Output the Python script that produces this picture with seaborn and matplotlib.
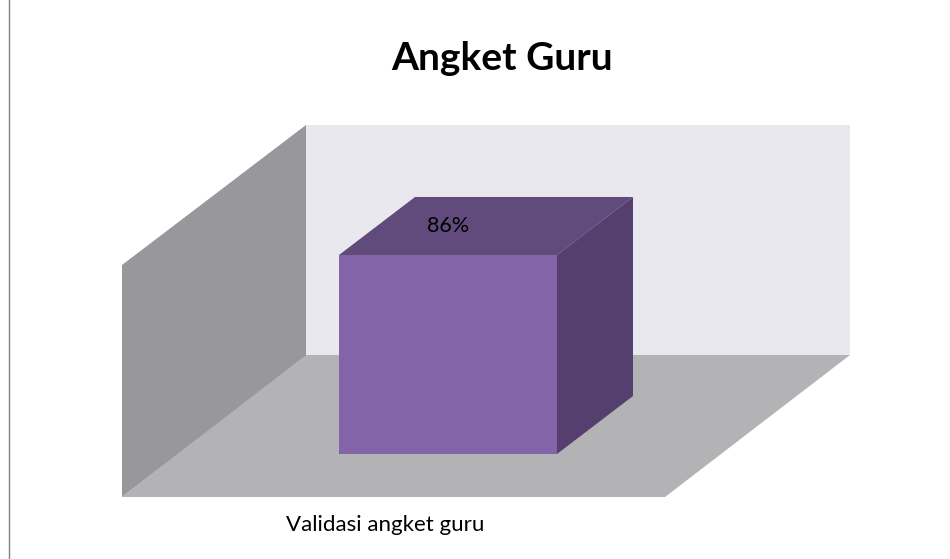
import matplotlib
matplotlib.use("Agg")
import matplotlib.pyplot as plt
import seaborn as sns
from matplotlib.patches import Polygon

# --- datos ---
categorias = ["Validasi angket guru"]
valores = [86]
etiquetas = ["86%"]
titulo = "Angket Guru"

W, H = 950, 559
DX, DY = 76, -58  # profundidad de la barra en pixeles

sns.set_theme(style="white")
plt.rcParams["font.family"] = ["Lato", "DejaVu Sans"]

fig = plt.figure(figsize=(W / 100, H / 100), dpi=100, facecolor="white")

# fondo en coordenadas de pixel: paredes y piso
fondo = fig.add_axes([0, 0, 1, 1])
fondo.set_xlim(0, W)
fondo.set_ylim(H, 0)
fondo.axis("off")

fondo.add_patch(Polygon([(306, 125), (850, 125), (850, 356), (306, 356)], fc="#e9e8ee", ec="none"))
fondo.add_patch(Polygon([(122, 265), (306, 125), (306, 356), (122, 497)], fc="#98989c", ec="none"))
fondo.add_patch(Polygon([(122, 497), (306, 355), (850, 355), (665, 497)], fc="#b3b3b5", ec="none"))
fondo.plot([9, 9], [0, H], color="#808080", lw=1)

# barra frontal con seaborn
ax = fig.add_axes([(448 - 136.25) / W, (H - 454) / H, 272.5 / W, 231.4 / H])
ax.patch.set_alpha(0)
sns.barplot(x=categorias, y=valores, color="#8364a8", saturation=1, width=0.8,
            edgecolor="none", linewidth=0, ax=ax)
ax.set_xlim(-0.5, 0.5)
ax.set_ylim(0, 100)
ax.axis("off")

# caras superior y lateral a partir de la barra dibujada
barra = ax.patches[0]
fig.canvas.draw()
(x0, y0), (x1, y1) = ax.transData.transform(
    [(barra.get_x(), 0), (barra.get_x() + barra.get_width(), barra.get_height())])
y0, y1 = H - y0, H - y1
fondo.add_patch(Polygon([(x0, y1), (x0 + DX, y1 + DY), (x1 + DX, y1 + DY), (x1, y1)],
                        fc="#604b7c", ec="none"))
fondo.add_patch(Polygon([(x1, y1), (x1 + DX, y1 + DY), (x1 + DX, y0 + DY), (x1, y0)],
                        fc="#553f6e", ec="none"))

ax.bar_label(ax.containers[0], labels=etiquetas, padding=14, fontsize=15.5, color="black")

fondo.text(385, 525, categorias[0], ha="center", va="center", fontsize=16, color="black")
fondo.text(502, 59, titulo, ha="center", va="center", fontsize=28, fontweight="bold", color="black")

fig.savefig("out.png", dpi=100)
